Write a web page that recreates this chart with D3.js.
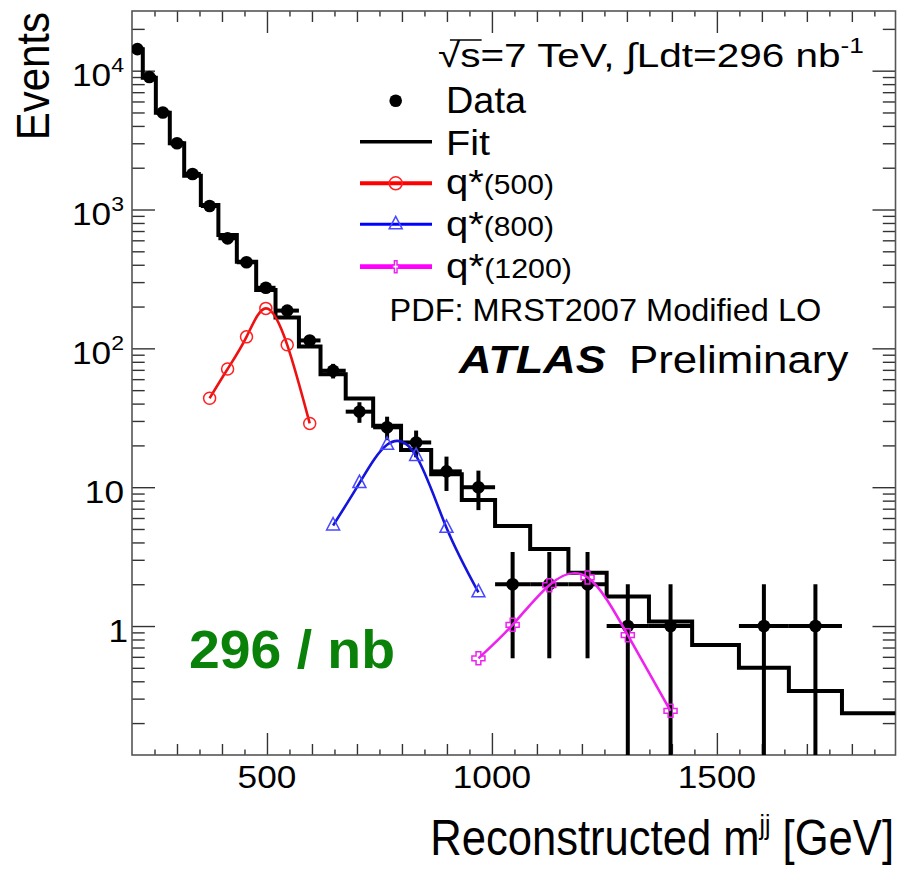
<!DOCTYPE html>
<html><head><meta charset="utf-8">
<script src="https://cdn.jsdelivr.net/npm/d3@7"></script>
<style>html,body{margin:0;padding:0;background:#fff;}svg{display:block;}</style>
</head><body>
<svg id="chart" width="897" height="873"></svg>
<script>
// ---------------- data ----------------
const massBinEdges = [200, 224, 253, 284, 316, 353, 392, 433, 476, 519, 571, 619, 675, 736, 798, 865, 933, 1007, 1085, 1170, 1255, 1349, 1445, 1549, 1660, 1778, 1897];
const fitEvents = [14260, 8900, 4980, 3000, 1753, 1077, 655, 421, 263, 167, 103, 65.0, 43.6, 27.7, 18.5, 12.4, 8.08, 5.25, 3.59, 2.42, 1.63, 1.08, 0.73, 0.50, 0.34, 0.235];
const dataEvents = [14300, 9000, 5000, 3000, 1800, 1060, 620, 417, 273, 187, 114, 69, 35, 27, 21, 13, 10, 2, 2, 2, 1, 1, 0, 1, 1, 0];
const qStar500Mass = [372.5, 412.5, 454.5, 497.5, 545, 595];
const qStar500Events = [43.7, 71.0, 121, 194, 106, 28.8];
const qStar800Mass = [647, 705.5, 767, 831.5, 899, 970];
const qStar800Events = [5.3, 10.7, 20.2, 16.8, 5.1, 1.75];
const qStar1200Mass = [970, 1046, 1127.5, 1212.5, 1302, 1397];
const qStar1200Events = [0.585, 1.02, 1.97, 2.24, 0.86, 0.245];
const xTickValues = [500, 1000, 1500];
const yTickValues = [1, 10, 100, 1000, 10000];
const yTickLabels = [["1", ""], ["10", ""], ["10", "2"], ["10", "3"], ["10", "4"]];
const legendLabels = [["Data", ""], ["Fit", ""], ["q*", "(500)"], ["q*", "(800)"], ["q*", "(1200)"]];

// ---------------- layout ----------------
const FONT = "'Liberation Sans', Arial, Helvetica, sans-serif";
const L = 132, R = 895.5, T = 11, B = 755;
const svg = d3.select("#chart");
const x = d3.scaleLinear().domain([200, 1897]).range([L, R]);
const y = d3.scaleLog().domain([Math.pow(10, -0.9289), Math.pow(10, 4.4298)]).range([B, T]);

svg.append("defs").append("clipPath").attr("id", "plotclip")
  .append("rect").attr("x", L).attr("y", T).attr("width", R - L).attr("height", B - T);

// ---------------- ticks ----------------
const axisColor = "#333";
function styleAxis(g) {
  g.select(".domain").remove();
  g.selectAll("text").remove();
  g.selectAll("line").attr("stroke", axisColor).attr("stroke-width", 1.4);
}
const x50 = d3.range(250, 1897, 50).filter(v => v % 100 !== 0);
const x100 = d3.range(300, 1897, 100).filter(v => v % 500 !== 0);
[[x50, 5.5], [x100, 11], [xTickValues, 22]].forEach(([vals, len]) => {
  svg.append("g").attr("transform", `translate(0,${B})`)
    .call(d3.axisBottom(x).tickValues(vals).tickSize(-len)).call(styleAxis);
  svg.append("g").attr("transform", `translate(0,${T})`)
    .call(d3.axisTop(x).tickValues(vals).tickSize(-len)).call(styleAxis);
});
const yMinor = [];
for (let k = -1; k <= 4; k++) for (let m = 2; m <= 9; m++) {
  const v = m * Math.pow(10, k);
  if (v >= y.domain()[0] && v <= y.domain()[1]) yMinor.push(v);
}
[[yMinor, 12.7], [yTickValues, 23]].forEach(([vals, len]) => {
  svg.append("g").attr("transform", `translate(${L},0)`)
    .call(d3.axisLeft(y).tickValues(vals).tickSize(-len)).call(styleAxis);
  svg.append("g").attr("transform", `translate(${R},0)`)
    .call(d3.axisRight(y).tickValues(vals).tickSize(-len)).call(styleAxis);
});

// frame
svg.append("rect").attr("x", L).attr("y", T).attr("width", R - L).attr("height", B - T)
  .attr("fill", "none").attr("stroke", "#555").attr("stroke-width", 1.6);

// ---------------- text helper ----------------
function addText(parent, px, py, anchor, parts, opts = {}) {
  const g = parent.append("g").attr("transform", `translate(${px},${py})`);
  const inner = g.append("g");
  const t = inner.append("text").attr("text-anchor", anchor).attr("font-family", FONT)
    .attr("fill", opts.fill || "#000");
  let prev = 0;
  parts.forEach(p => {
    if (!p.text) return;
    const ts = t.append("tspan").text(p.text).attr("font-size", p.size);
    const d = (p.dy || 0) - prev;
    if (d) ts.attr("dy", d);
    prev = p.dy || 0;
    if (p.weight) ts.attr("font-weight", p.weight);
    if (p.style) ts.attr("font-style", p.style);
  });
  let sx = opts.sx || 1;
  if (opts.width) sx = opts.width / t.node().getBBox().width;
  inner.attr("transform", `scale(${sx},1)` + (opts.rotate ? ` rotate(${opts.rotate})` : ""));
  return { g, inner, t };
}

// tick labels
xTickValues.forEach(v => addText(svg, x(v), 788, "middle", [{ text: String(v), size: 32 }], { sx: 1.1 }));
yTickValues.forEach((v, i) => addText(svg, yTickLabels[i][0].length === 1 ? 128 : 124, y(v) + 15.5, "end",
  [{ text: yTickLabels[i][0], size: 32 }, { text: yTickLabels[i][1], size: 21, dy: -14 }], { sx: 1.1 }));

// axis titles
addText(svg, 48.5, 12, "end", [{ text: "Events", size: 42 }], { sx: 1.1, rotate: -90 });
addText(svg, 894, 855, "end", [
  { text: "Reconstructed m", size: 50 }, { text: "jj", size: 28, dy: -21 }, { text: " [GeV]", size: 50, dy: 0 }
], { width: 464 });

// ---------------- fit histogram ----------------
const plot = svg.append("g").attr("clip-path", "url(#plotclip)");
const fitPts = fitEvents.map((v, i) => [massBinEdges[i], v]);
fitPts.push([massBinEdges[massBinEdges.length - 1], fitEvents[fitEvents.length - 1]]);
plot.append("path").datum(fitPts)
  .attr("d", d3.line().x(d => x(d[0])).y(d => y(d[1])).curve(d3.curveStepAfter))
  .attr("fill", "none").attr("stroke", "#000").attr("stroke-width", 4);

// ---------------- data ----------------
const dataPts = dataEvents.map((n, i) => ({ n, lo: massBinEdges[i], hi: massBinEdges[i + 1], c: (massBinEdges[i] + massBinEdges[i + 1]) / 2 }))
  .filter(d => d.n > 0);
const yClamp = v => v <= 0 ? B + 10 : y(v);
plot.selectAll(".hbar").data(dataPts).enter().append("line")
  .attr("x1", d => x(d.lo)).attr("x2", d => x(d.hi)).attr("y1", d => y(d.n)).attr("y2", d => y(d.n))
  .attr("stroke", "#000").attr("stroke-width", 4);
plot.selectAll(".vbar").data(dataPts).enter().append("line")
  .attr("x1", d => x(d.c)).attr("x2", d => x(d.c))
  .attr("y1", d => y(d.n + Math.sqrt(d.n))).attr("y2", d => yClamp(d.n - Math.sqrt(d.n)))
  .attr("stroke", "#000").attr("stroke-width", 4);
plot.selectAll(".dot").data(dataPts).enter().append("circle")
  .attr("cx", d => x(d.c)).attr("cy", d => y(d.n)).attr("r", 6.3).attr("fill", "#000");

// ---------------- signals ----------------
const triPath = "M0,-8L6.5,4.5L-6.5,4.5Z";
function crossPath(ax, ay, bx, by) {
  return `M${-bx},${-ay}H${bx}V${-by}H${ax}V${by}H${bx}V${ay}H${-bx}V${by}H${-ax}V${-by}H${-bx}Z`;
}
const curveLine = d3.line().x(d => x(d[0])).y(d => y(d[1])).curve(d3.curveNatural);
const signals = [
  { m: qStar500Mass, e: qStar500Events, line: "#ee1111", mk: "#ff2020", type: "circle" },
  { m: qStar800Mass, e: qStar800Events, line: "#1414dc", mk: "#4848ff", type: "tri" },
  { m: qStar1200Mass, e: qStar1200Events, line: "#ee22ee", mk: "#ee22ee", type: "cross" }
];
signals.forEach(s => {
  const pts = s.m.map((mm, i) => [mm, s.e[i]]);
  plot.append("path").datum(pts).attr("d", curveLine)
    .attr("fill", "none").attr("stroke", s.line).attr("stroke-width", 2.6);
  pts.forEach(p => {
    const cx = x(p[0]), cy = y(p[1]);
    if (s.type === "circle")
      plot.append("circle").attr("cx", cx).attr("cy", cy).attr("r", 6)
        .attr("fill", "none").attr("stroke", s.mk).attr("stroke-width", 1.5);
    else if (s.type === "tri")
      plot.append("path").attr("d", triPath).attr("transform", `translate(${cx},${cy})`)
        .attr("fill", "none").attr("stroke", s.mk).attr("stroke-width", 1.5);
    else
      plot.append("path").attr("d", crossPath(6.5, 6.5, 2.4, 2.4)).attr("transform", `translate(${cx},${cy})`)
        .attr("fill", "none").attr("stroke", s.mk).attr("stroke-width", 1.5);
  });
});

// ---------------- legend ----------------
const legRows = [100.7, 141.7, 183.3, 224.3, 266.7];
const legBase = [113.3, 155, 194, 236, 278];
const legW = [81, 44, 108, 108, 126];
const lx1 = 360, lx2 = 432, lmx = 395.7;
svg.append("circle").attr("cx", lmx).attr("cy", legRows[0]).attr("r", 6.3).attr("fill", "#000");
svg.append("line").attr("x1", lx1).attr("x2", lx2).attr("y1", legRows[1]).attr("y2", legRows[1])
  .attr("stroke", "#000").attr("stroke-width", 3.4);
const legLineW = [4, 3, 4.8];
const legLineC = ["#ff0000", "#0000ff", "#ff00ff"];
signals.forEach((s, i) => {
  const yy = legRows[i + 2];
  svg.append("line").attr("x1", lx1).attr("x2", lx2).attr("y1", yy).attr("y2", yy)
    .attr("stroke", legLineC[i]).attr("stroke-width", legLineW[i]);
  if (s.type === "circle")
    svg.append("circle").attr("cx", lmx).attr("cy", yy).attr("r", 6.5)
      .attr("fill", "none").attr("stroke", s.mk).attr("stroke-width", 1.5);
  else if (s.type === "tri")
    svg.append("path").attr("d", triPath).attr("transform", `translate(${lmx},${yy})`)
      .attr("fill", "none").attr("stroke", s.mk).attr("stroke-width", 1.5);
  else
    svg.append("path").attr("d", crossPath(3, 6, 1.3, 1.6)).attr("transform", `translate(${lmx},${yy})`)
      .attr("fill", "#fff").attr("stroke", s.mk).attr("stroke-width", 1.5);
});
legendLabels.forEach((lab, i) => {
  addText(svg, 446, legBase[i], "start",
    [{ text: lab[0], size: 36 }, { text: lab[1], size: 27 }], { width: legW[i] });
});

// header
const hdr = addText(svg, 438, 67, "start", [
  { text: "\u221As=7 TeV, \u222BLdt=296 nb", size: 34 }, { text: "-1", size: 22, dy: -14 }
], { width: 426 });
try {
  const n = hdr.t.node();
  const s1 = n.getEndPositionOfChar(1).x;
  const r0 = n.getStartPositionOfChar(0).x;
  hdr.inner.append("line").attr("x1", r0 + 10).attr("x2", s1 + 1).attr("y1", -27).attr("y2", -27)
    .attr("stroke", "#000").attr("stroke-width", 1.5);
} catch (e) {}

addText(svg, 389.5, 320.7, "start", [{ text: "PDF: MRST2007 Modified LO", size: 32 }], { width: 432 });
addText(svg, 459, 372.7, "start", [{ text: "ATLAS", size: 39, weight: "bold", style: "italic" }], { width: 148 });
addText(svg, 629, 372.7, "start", [{ text: "Preliminary", size: 39 }], { width: 220 });
addText(svg, 189, 668.3, "start", [{ text: "296 / nb", size: 53, weight: "bold" }], { width: 206, fill: "#0a820a" });
</script>
</body></html>
